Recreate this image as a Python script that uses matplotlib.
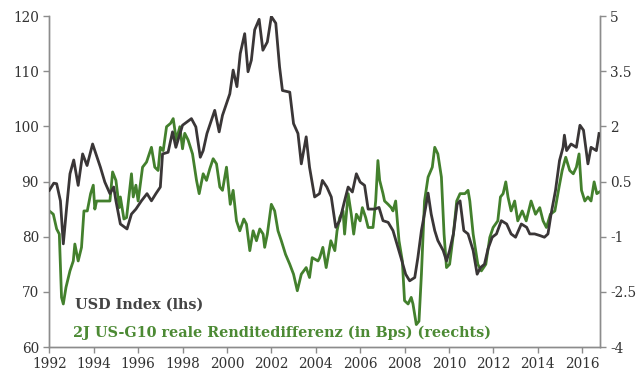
import numpy as np
import matplotlib
matplotlib.use("Agg")
import matplotlib.pyplot as plt

# USD index (left axis)
usd_x = [1992.0, 1992.2, 1992.33, 1992.5, 1992.63, 1992.78, 1992.93, 1993.1, 1993.3, 1993.5,
         1993.7, 1993.95, 1994.3, 1994.5, 1994.73, 1994.9, 1995.0, 1995.2, 1995.5, 1995.7,
         1995.9, 1996.15, 1996.4, 1996.6, 1996.8, 1997.0, 1997.1, 1997.35, 1997.55, 1997.7,
         1998.0, 1998.2, 1998.4, 1998.6, 1998.8, 1998.93, 1999.1, 1999.45, 1999.65, 1999.8,
         1999.98, 2000.13, 2000.28, 2000.45, 2000.6, 2000.8, 2000.95, 2001.1, 2001.25, 2001.45,
         2001.62, 2001.82, 2002.0, 2002.2, 2002.37, 2002.5, 2002.83, 2003.0, 2003.2, 2003.35,
         2003.57, 2003.72, 2003.95, 2004.17, 2004.3, 2004.5, 2004.7, 2004.9, 2005.08, 2005.3,
         2005.46, 2005.65, 2005.83, 2006.0, 2006.2, 2006.36, 2006.66, 2006.85, 2007.03, 2007.26,
         2007.48, 2007.7, 2007.86, 2008.05, 2008.23, 2008.46, 2008.6, 2008.76, 2008.95, 2009.06,
         2009.2, 2009.36, 2009.5, 2009.74, 2009.89, 2010.03, 2010.2, 2010.37, 2010.5, 2010.67,
         2010.86, 2011.09, 2011.27, 2011.42, 2011.6, 2011.76, 2011.95, 2012.14, 2012.36, 2012.6,
         2012.8, 2013.0, 2013.26, 2013.5, 2013.64, 2013.86, 2014.1, 2014.3, 2014.46, 2014.6,
         2014.8, 2014.98, 2015.14, 2015.2, 2015.3, 2015.5, 2015.74, 2015.9, 2016.06, 2016.26,
         2016.4, 2016.64, 2016.76]
usd_y = [88.4, 89.7, 89.6, 86.5, 78.7, 85.3, 91.4, 93.9, 89.3, 95.0,
         92.9, 96.8, 92.6, 89.9, 87.8, 89.0, 86.5, 82.3, 81.4, 84.1,
         85.0, 86.5, 87.8, 86.5, 87.8, 89.0, 95.0, 95.3, 99.0, 96.2,
         100.2, 100.8, 101.4, 99.9, 94.4, 95.6, 98.7, 102.9, 99.0, 102.0,
         104.1, 105.9, 110.2, 107.2, 113.2, 116.8, 109.9, 112.0, 117.5, 119.4,
         113.8, 115.3, 119.9, 118.7, 110.8, 106.5, 106.2, 100.5, 98.7, 93.2,
         98.1, 92.6, 87.2, 87.8, 90.2, 89.0, 87.2, 81.7, 82.9, 86.5,
         89.0, 88.1, 91.4, 89.9, 89.3, 85.0, 85.0, 85.3, 82.9, 82.6,
         81.1, 78.1, 75.9, 73.2, 72.0, 72.6, 76.2, 81.1, 85.3, 87.9,
         84.1, 81.1, 79.3, 77.5, 75.6, 77.5, 80.5, 85.9, 86.5, 81.1,
         80.5, 77.5, 73.2, 74.4, 75.0, 77.8, 79.9, 80.5, 82.9, 82.3,
         80.5, 79.9, 82.3, 81.7, 80.5, 80.5, 80.2, 79.9, 80.5, 84.1,
         88.4, 93.8, 96.2, 98.4, 95.6, 96.8, 96.2, 100.2, 99.3, 93.2,
         96.2, 95.6, 98.7]

# 2y US-G10 real yield differential (right axis)
diff_x = [1992.0, 1992.18, 1992.33, 1992.45, 1992.55, 1992.63, 1992.75, 1992.93, 1993.08, 1993.15,
          1993.3, 1993.45, 1993.56, 1993.71, 1993.86, 1993.98, 1994.05, 1994.13, 1994.73, 1994.85,
          1995.0, 1995.15, 1995.2, 1995.36, 1995.48, 1995.7, 1995.78, 1995.9, 1996.0, 1996.2,
          1996.38, 1996.6, 1996.75, 1996.9, 1997.0, 1997.13, 1997.28, 1997.46, 1997.58, 1997.72,
          1997.88, 1998.0, 1998.1, 1998.25, 1998.45, 1998.63, 1998.75, 1998.93, 1999.08, 1999.23,
          1999.38, 1999.53, 1999.68, 1999.8, 1999.98, 2000.15, 2000.28, 2000.43, 2000.58, 2000.76,
          2000.88, 2001.03, 2001.18, 2001.33, 2001.48, 2001.63, 2001.7, 2001.82, 2002.0, 2002.15,
          2002.3, 2002.45, 2002.64, 2002.83, 2003.0, 2003.17, 2003.35, 2003.57, 2003.72, 2003.84,
          2004.1, 2004.18, 2004.32, 2004.47, 2004.68, 2004.86, 2004.96, 2005.08, 2005.23, 2005.3,
          2005.46, 2005.6, 2005.71, 2005.83, 2006.0, 2006.1, 2006.25, 2006.36, 2006.58, 2006.7,
          2006.8, 2006.88, 2007.03, 2007.1, 2007.26, 2007.4, 2007.48, 2007.6, 2007.75, 2007.9,
          2008.0, 2008.16, 2008.3, 2008.38, 2008.53, 2008.65, 2008.76, 2008.9, 2009.06, 2009.25,
          2009.36, 2009.5, 2009.66, 2009.78, 2009.89, 2010.03, 2010.2, 2010.35, 2010.5, 2010.72,
          2010.86, 2010.94, 2011.09, 2011.3, 2011.46, 2011.66, 2011.84, 2011.99, 2012.2, 2012.32,
          2012.44, 2012.56, 2012.66, 2012.8, 2012.96, 2013.1, 2013.3, 2013.48, 2013.7, 2013.9,
          2014.09, 2014.24, 2014.39, 2014.57, 2014.77, 2014.96, 2015.1, 2015.26, 2015.44, 2015.6,
          2015.74, 2015.86, 2015.97, 2016.12, 2016.26, 2016.4, 2016.54, 2016.66, 2016.79]
diff_y = [-0.30, -0.39, -0.79, -0.93, -2.65, -2.83, -2.38, -1.93, -1.66, -1.20,
          -1.66, -1.29, -0.30, -0.30, 0.17, 0.40, -0.25, -0.03, -0.03, 0.76,
          0.53, -0.21, 0.08, -0.52, -0.48, 0.71, 0.08, 0.40, -0.03, 0.89,
          1.03, 1.43, 0.89, 0.80, 1.43, 1.34, 1.99, 2.08, 2.21, 1.63,
          1.99, 1.39, 1.81, 1.63, 1.25, 0.53, 0.17, 0.71, 0.53, 0.85,
          1.12, 0.98, 0.35, 0.26, 0.89, -0.12, 0.26, -0.57, -0.84, -0.52,
          -0.66, -1.38, -0.84, -1.11, -0.79, -0.93, -1.29, -0.93, -0.12, -0.30,
          -0.84, -1.11, -1.48, -1.75, -2.02, -2.47, -2.02, -1.84, -2.11, -1.57,
          -1.66, -1.57, -1.29, -1.84, -1.11, -1.38, -0.84, -0.48, -0.30, -0.93,
          0.17, -0.39, -0.93, -0.39, -0.57, -0.21, -0.48, -0.75, -0.75, -0.03,
          1.07, 0.53, 0.17, -0.03, -0.12, -0.21, -0.30, -0.03, -1.11, -1.66,
          -2.74, -2.83, -2.65, -2.83, -3.39, -3.30, -2.02, -0.03, 0.62, 0.89,
          1.43, 1.25, 0.62, -0.93, -1.84, -1.75, -0.93, -0.03, 0.17, 0.17,
          0.26, -0.03, -0.93, -1.75, -1.93, -1.75, -1.02, -0.75, -0.57, 0.08,
          0.17, 0.49, 0.08, -0.30, -0.03, -0.57, -0.30, -0.57, -0.03, -0.39,
          -0.21, -0.57, -0.75, -0.39, -0.30, 0.35, 0.80, 1.16, 0.80, 0.71,
          0.89, 1.25, 0.26, -0.03, 0.08, -0.03, 0.49, 0.17, 0.22]

left_ticks = [60, 70, 80, 90, 100, 110, 120]
right_ticks = [-4, -2.5, -1, 0.5, 2, 3.5, 5]
right_labels = ["-4", "-2.5", "-1", "0.5", "2", "3.5", "5"]
years = list(range(1992, 2017, 2))

black = "#3a3637"
green = "#43802d"
spine = "#8c8c8c"

plt.rcParams['font.family'] = ['DejaVu Serif']

fig = plt.figure(figsize=(6.43, 3.76), dpi=100)
ax = fig.add_axes([0.0767, 0.0771, 0.8563, 0.8803])
ax2 = ax.twinx()

ax.plot(usd_x, usd_y, color=black, lw=2.0, zorder=3)
ax2.plot(diff_x, diff_y, color=green, lw=2.0, zorder=2)
ax.set_zorder(ax2.get_zorder() + 1)
ax.patch.set_visible(False)

ax.set_xlim(1992, 2016.8)
ax.set_ylim(60, 120)
ax2.set_ylim(-4, 5)
ax.set_yticks(left_ticks)
ax2.set_yticks(right_ticks)
ax2.set_yticklabels(right_labels)
ax.set_xticks(years)
ax.set_xticklabels([str(y) for y in years])

for a in (ax, ax2):
    a.spines['top'].set_visible(False)
    for s in ('left', 'right', 'bottom'):
        a.spines[s].set_color(spine)
        a.spines[s].set_linewidth(1.0)
    a.tick_params(colors=spine, labelcolor="#333333", labelsize=9.8, length=4, width=1)

ax.text(0.047, 0.127, "USD Index (lhs)", transform=ax.transAxes, color="#444444",
        fontsize=10.4, fontweight='bold', va='center', zorder=5)
ax.text(0.043, 0.042, "2J US-G10 reale Renditedifferenz (in Bps) (reechts)",
        transform=ax.transAxes, color="#4c8a34", fontsize=10.4, fontweight='bold',
        va='center', zorder=5)

fig.savefig("out.png", dpi=100)
